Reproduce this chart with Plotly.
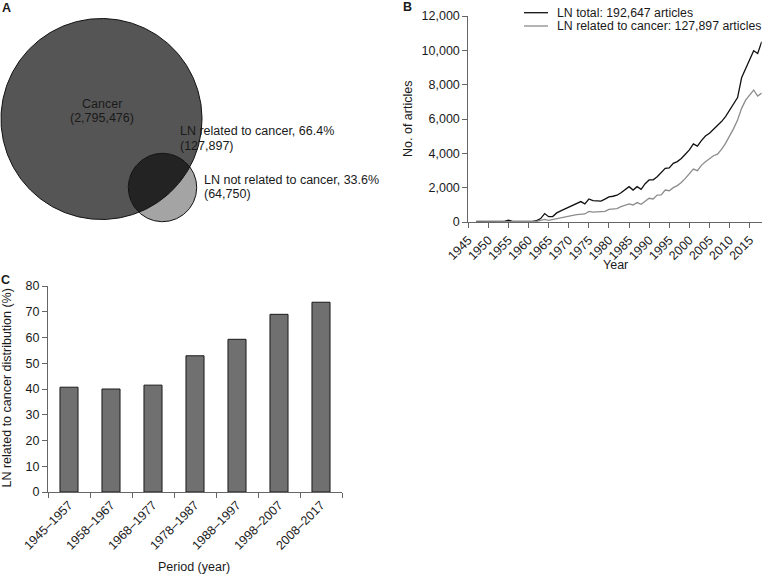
import numpy as np
import plotly.graph_objects as go

W, H = 764, 575
FONT = "Liberation Sans, Arial, sans-serif"
FS = 12.5
TXT = "#1a1a1a"

# ---------------- data ----------------
years = list(range(1947, 2019))
ln_total = [
    30, 25, 30, 30, 30, 35, 30, 40, 110, 40, 30, 30, 25, 30, 40,          # 1947-1961
    80, 200, 490, 310, 320, 530, 650, 750, 850,                            # 1962-1970
    980, 1050, 1190, 1060, 1340, 1240, 1230, 1220, 1330, 1460,             # 1971-1980
    1500, 1560, 1700, 1880, 2060, 1860, 2060, 1900, 2230, 2450,            # 1981-1990
    2460, 2640, 2900, 3130, 3150, 3420, 3520, 3700, 3950, 4200,            # 1991-2000
    4550, 4420, 4740, 5010, 5170, 5400, 5600, 5850, 6140, 6520,            # 2001-2010
    6850, 7250, 8400, 8950, 9470, 9980, 9820, 10500,                       # 2011-2018
]
ln_cancer = [
    5, 5, 5, 8, 5, 8, 5, 10, 30, 10, 8, 8, 5, 8, 10,
    30, 90, 150, 100, 140, 200, 260, 300, 330,
    380, 430, 460, 470, 620, 580, 590, 610, 620, 740,
    760, 780, 890, 990, 1050, 990, 1130, 1030, 1200, 1380,
    1340, 1570, 1580, 1860, 1820, 2000, 2120, 2300, 2540, 2800,
    3080, 2990, 3300, 3510, 3700, 3860, 3950, 4230, 4580, 4970,
    5440, 5940, 6620, 7100, 7400, 7690, 7340, 7510,
]
total_label = "LN total: 192,647 articles"
cancer_label = "LN related to cancer: 127,897 articles"

periods = ["1945–1957", "1958–1967", "1968–1977", "1978–1987",
           "1988–1997", "1998–2007", "2008–2017"]
cancer_share = [40.7, 40.0, 41.5, 52.9, 59.3, 69.0, 73.7]

venn_cancer = 2795476
venn_related = 127897
venn_not_related = 64750
pct_related = 66.4
pct_not_related = 33.6

# ---------------- helpers ----------------
def px(x):
    return x / W

def py(y):
    return 1 - y / H

# Venn geometry (pixel space of panel A)
C1, R1 = (101.5, 119.0), 100.5
C2, R2 = (162.5, 187.5), 34.2

def circle(c, r, n=361):
    t = np.linspace(0, 2 * np.pi, n)
    return c[0] + r * np.cos(t), c[1] + r * np.sin(t)

def lens(c1, r1, c2, r2, n=120):
    dx, dy = c2[0] - c1[0], c2[1] - c1[1]
    d = np.hypot(dx, dy)
    phi = np.arctan2(dy, dx)
    a = (d * d + r1 * r1 - r2 * r2) / (2 * d)
    alpha = np.arccos(a / r1)
    beta = np.arccos((d - a) / r2)
    t1 = np.linspace(phi - alpha, phi + alpha, n)
    t2 = np.linspace(phi + np.pi - beta, phi + np.pi + beta, n)
    xs = np.concatenate([c1[0] + r1 * np.cos(t1), c2[0] + r2 * np.cos(t2)])
    ys = np.concatenate([c1[1] + r1 * np.sin(t1), c2[1] + r2 * np.sin(t2)])
    return xs, ys

fig = go.Figure()

# ---------------- Panel A: Venn ----------------
bx, by = circle(C1, R1)
sx, sy = circle(C2, R2)
lx, ly = lens(C1, R1, C2, R2)
fig.add_trace(go.Scatter(x=bx, y=by, fill="toself", fillcolor="#555555", mode="lines",
                         line=dict(color="#555555", width=0), xaxis="x3", yaxis="y3",
                         showlegend=False, hoverinfo="skip"))
fig.add_trace(go.Scatter(x=sx, y=sy, fill="toself", fillcolor="#a4a4a4", mode="lines",
                         line=dict(color="#a4a4a4", width=0), xaxis="x3", yaxis="y3",
                         showlegend=False, hoverinfo="skip"))
fig.add_trace(go.Scatter(x=lx, y=ly, fill="toself", fillcolor="#232323", mode="lines",
                         line=dict(color="#232323", width=0), xaxis="x3", yaxis="y3",
                         showlegend=False, hoverinfo="skip"))
for cx, cy in ((bx, by), (sx, sy)):
    fig.add_trace(go.Scatter(x=cx, y=cy, mode="lines", line=dict(color="#111111", width=1),
                             xaxis="x3", yaxis="y3", showlegend=False, hoverinfo="skip"))

# ---------------- Panel B: lines ----------------
fig.add_trace(go.Scatter(x=years, y=ln_total, mode="lines", name=total_label,
                         line=dict(color="#111111", width=1.3), xaxis="x", yaxis="y",
                         showlegend=False))
fig.add_trace(go.Scatter(x=years, y=ln_cancer, mode="lines", name=cancer_label,
                         line=dict(color="#8c8c8c", width=1.3), xaxis="x", yaxis="y",
                         showlegend=False))

# ---------------- Panel C: bars ----------------
fig.add_trace(go.Bar(x=periods, y=cancer_share, marker=dict(color="#707070",
                     line=dict(color="#1a1a1a", width=1)), width=0.43,
                     xaxis="x2", yaxis="y2", showlegend=False))

axis_common = dict(showgrid=False, zeroline=False, showline=True, linecolor="#666666",
                   linewidth=1, ticks="outside", tickcolor="#666666", ticklen=5,
                   automargin=False,
                   tickfont=dict(family=FONT, size=FS, color=TXT))

fig.update_layout(
    template="none",
    width=W, height=H, margin=dict(l=0, r=0, t=0, b=0, pad=0), autosize=False,
    paper_bgcolor="white", plot_bgcolor="rgba(0,0,0,0)",
    font=dict(family=FONT, size=FS, color=TXT),
    showlegend=False,
    xaxis=dict(domain=[px(468.3), px(761.7)], range=[1945, 2018], tick0=1945, dtick=5,
               tickangle=-45, anchor="y", **axis_common),
    yaxis=dict(domain=[py(222), py(16)], range=[0, 12000], dtick=2000, tickformat=",d",
               anchor="x", **axis_common),
    xaxis2=dict(domain=[px(48), px(342)], type="category", range=[-0.5, 6.5],
                tickson="boundaries", tickangle=-45, anchor="y2", **axis_common),
    yaxis2=dict(domain=[py(492), py(286)], range=[0, 80], dtick=10, anchor="x2",
                **axis_common),
    xaxis3=dict(domain=[0, 1], range=[0, W], visible=False, anchor="y3", automargin=False),
    yaxis3=dict(domain=[0, 1], range=[H, 0], visible=False, anchor="x3", automargin=False),
)

ann = []
def text(x, y, s, xanchor="center", size=FS, bold=False, angle=0):
    ann.append(dict(x=px(x), y=py(y), xref="paper", yref="paper", text=f"<b>{s}</b>" if bold else s,
                    showarrow=False, xanchor=xanchor, yanchor="middle", textangle=angle,
                    font=dict(family=FONT, size=size, color=TXT)))

# panel letters
text(6, 7.5, "A", size=12.5, bold=True)
text(407.7, 7.2, "B", size=12.5, bold=True)
text(5.5, 279.5, "C", size=12.5, bold=True)

# Venn labels
text(101.7, 104.3, "Cancer")
text(101.7, 118.3, f"({venn_cancer:,})")
text(178.3, 131, f"LN related to cancer, {pct_related}%", xanchor="left")
text(178.3, 145.7, f"({venn_related:,})", xanchor="left")
text(201.7, 180, f"LN not related to cancer, {pct_not_related}%", xanchor="left")
text(201.7, 194, f"({venn_not_related:,})", xanchor="left")

# Panel B legend
text(555, 12.7, total_label, xanchor="left", size=12.3)
text(555, 26, cancer_label, xanchor="left", size=12.3)
shapes = [
    dict(type="line", xref="paper", yref="paper", x0=px(524), x1=px(548), y0=py(12.7), y1=py(12.7),
         line=dict(color="#111111", width=1.3)),
    dict(type="line", xref="paper", yref="paper", x0=px(524), x1=px(548), y0=py(26), y1=py(26),
         line=dict(color="#8c8c8c", width=1.3)),
]

# axis titles
text(408, 119, "No. of articles", angle=-90)
text(615, 265, "Year")
text(194, 567, "Period (year)")
text(6.5, 388, "LN related to cancer distribution (%)", angle=-90)

fig.update_layout(annotations=ann, shapes=shapes)
fig.write_html("out.html", config={"displayModeBar": False},
               post_script="document.body.style.margin='0';document.body.style.padding='0';"
                           "document.body.style.overflow='hidden';")
